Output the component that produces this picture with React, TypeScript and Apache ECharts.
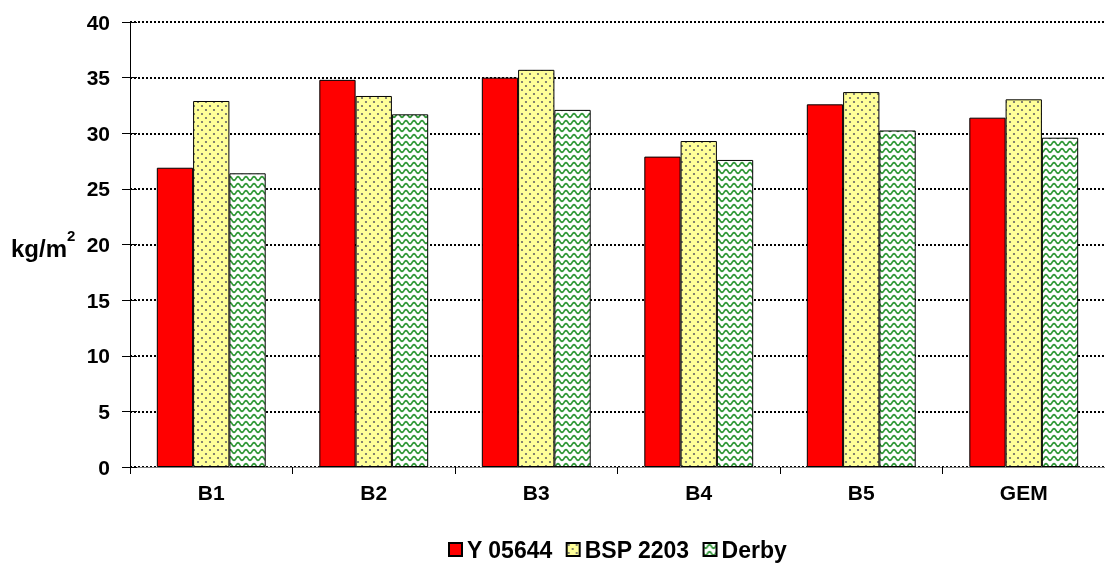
import React, { useEffect, useRef } from "react";
import * as echarts from "echarts";

const categories = ["B1", "B2", "B3", "B4", "B5", "GEM"];
const seriesNames = ["Y 05644", "BSP 2203", "Derby"];
const y05644 = [26.9, 34.8, 35.0, 27.9, 32.6, 31.4];
const bsp2203 = [32.9, 33.35, 35.7, 29.3, 33.7, 33.05];
const derby = [26.4, 31.7, 32.1, 27.6, 30.25, 29.6];
const yTicks = [0, 5, 10, 15, 20, 25, 30, 35, 40];

function makeDots() {
  const c = document.createElement("canvas");
  c.width = 8;
  c.height = 8;
  const ctx = c.getContext("2d")!;
  ctx.fillStyle = "#FFFF99";
  ctx.fillRect(0, 0, 8, 8);
  ctx.fillStyle = "#666666";
  ctx.beginPath();
  ctx.arc(2, 2, 1.1, 0, Math.PI * 2);
  ctx.fill();
  ctx.beginPath();
  ctx.arc(6, 6, 1.1, 0, Math.PI * 2);
  ctx.fill();
  return c;
}

function makeWaves() {
  const w = 8, h = 7;
  const c = document.createElement("canvas");
  c.width = w;
  c.height = h;
  const ctx = c.getContext("2d")!;
  ctx.fillStyle = "#ffffff";
  ctx.fillRect(0, 0, w, h);
  ctx.strokeStyle = "#33993a";
  ctx.lineWidth = 1.7;
  ctx.beginPath();
  for (let x = -1; x <= w + 1; x += 0.5) {
    const y = 3.5 + 1.8 * Math.sin((x / w) * Math.PI * 2);
    if (x === -1) ctx.moveTo(x, y);
    else ctx.lineTo(x, y);
  }
  ctx.stroke();
  return c;
}

export default function App() {
  const ref = useRef<HTMLDivElement>(null);
  useEffect(() => {
    if (!ref.current) return;
    const chart = echarts.init(ref.current, null, { renderer: "svg" });
    const dots = makeDots();
    const waves = makeWaves();
    const dotsPattern: any = { image: dots.toDataURL(), repeat: "repeat", imageWidth: 8, imageHeight: 8 };
    const wavesPattern: any = { image: waves.toDataURL(), repeat: "repeat", imageWidth: 8, imageHeight: 7 };
    const font = "'Liberation Sans', Arial, sans-serif";
    const fs = 21;
    const fills = ["#FF0000", dotsPattern, wavesPattern];
    const datas = [y05644, bsp2203, derby];
    chart.setOption({
      animation: false,
      textStyle: { fontFamily: font },
      grid: { left: 130, top: 22, bottom: 102, width: 982 },
      legend: {
        bottom: 3,
        left: 443,
        itemWidth: 13,
        itemHeight: 13,
        itemGap: 13,
        icon: "rect",
        textStyle: { fontFamily: font, fontWeight: "bold", fontSize: 23, color: "#000" },
        data: seriesNames,
      },
      xAxis: {
        type: "category",
        data: categories,
        axisLine: { lineStyle: { color: "#808080", width: 1 } },
        axisTick: { show: true, length: 7, lineStyle: { color: "#000" } },
        axisLabel: { fontFamily: font, fontWeight: "bold", fontSize: fs, color: "#000", margin: 15 },
      },
      yAxis: [
        {
          type: "value",
          min: 0,
          max: 40,
          interval: 5,
          axisLine: { show: true, lineStyle: { color: "#000" } },
          axisTick: { show: true, length: 8, lineStyle: { color: "#000" } },
          axisLabel: { fontFamily: font, fontWeight: "bold", fontSize: fs, color: "#000", margin: 20 },
          splitLine: { show: true, lineStyle: { color: "#000", type: [2, 2], width: 2 } },
        },
        {
          type: "value",
          min: 0,
          max: 40,
          interval: 5,
          position: "left",
          axisLine: { show: false },
          axisTick: { show: true, inside: true, length: 7, lineStyle: { color: "#000" } },
          axisLabel: { show: false },
          splitLine: { show: false },
        },
      ],
      graphic: [
        {
          type: "text",
          left: 11,
          top: 228,
          style: {
            text: "{a|kg/m}{s|2}",
            rich: {
              a: { fontFamily: font, fontWeight: "bold", fontSize: 24, fill: "#000", verticalAlign: "bottom", lineHeight: 32 },
              s: { fontFamily: font, fontWeight: "bold", fontSize: 15, fill: "#000", verticalAlign: "top", lineHeight: 32 },
            },
          },
        },
      ],
      series: seriesNames.map((name, i) => ({
        name,
        type: "bar",
        data: datas[i],
        barGap: "0%",
        barCategoryGap: "33%",
        itemStyle: { color: fills[i], borderColor: "#000", borderWidth: 1 },
      })),
    });
    return () => chart.dispose();
  }, []);
  return <div ref={ref} style={{ position: "fixed", left: 0, top: 0, width: 1105, height: 569 }} />;
}
